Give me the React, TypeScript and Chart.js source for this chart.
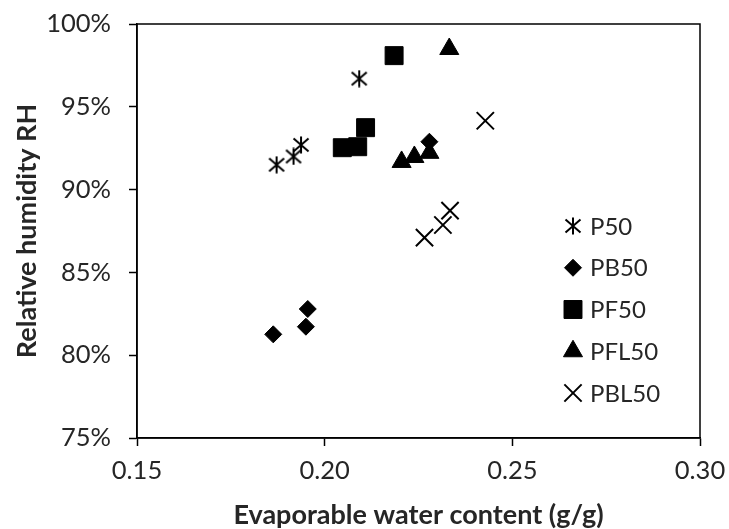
import React, { useEffect, useRef } from 'react';
import { Chart, registerables } from 'chart.js';
import { drawPoint } from 'chart.js/helpers';

Chart.register(...registerables);

const seriesNames = ['P50', 'PB50', 'PF50', 'PFL50', 'PBL50'];

const p50X = [0.1872, 0.1917, 0.1937, 0.2092];
const p50Y = [91.5, 92.0, 92.7, 96.7];

const pb50X = [0.1863, 0.195, 0.1955, 0.2279];
const pb50Y = [81.26, 81.72, 82.79, 92.89];

const pf50X = [0.2047, 0.2088, 0.2109, 0.2185];
const pf50Y = [92.53, 92.59, 93.74, 98.09];

const pfl50X = [0.2205, 0.2239, 0.2279, 0.2332];
const pfl50Y = [91.67, 91.97, 92.22, 98.49];

const pbl50X = [0.2266, 0.2315, 0.2334, 0.2428];
const pbl50Y = [87.1, 87.86, 88.73, 94.16];

const xTickMin = 0.15;
const xTickMax = 0.3;
const xTickStep = 0.05;
const yTickMin = 75;
const yTickMax = 100;
const yTickStep = 5;

const xTitle = 'Evaporable water content (g/g)';
const yTitle = 'Relative humidity RH';

const FONT = 'Lato, "Liberation Sans", sans-serif';
const TEXT = '#262626';

function makeAsterisk(): HTMLCanvasElement {
  const c = document.createElement('canvas');
  c.width = 18;
  c.height = 18;
  const ctx = c.getContext('2d')!;
  ctx.strokeStyle = '#000';
  ctx.lineWidth = 2;
  ctx.beginPath();
  ctx.moveTo(9, 0.5);
  ctx.lineTo(9, 17.5);
  ctx.moveTo(1.5, 2.5);
  ctx.lineTo(16.5, 15.5);
  ctx.moveTo(16.5, 2.5);
  ctx.lineTo(1.5, 15.5);
  ctx.stroke();
  return c;
}

const zip = (xs: number[], ys: number[]) => xs.map((x, i) => ({ x, y: ys[i] }));

const boxPlugin = {
  id: 'plotBox',
  afterDraw(chart: any) {
    const { ctx, chartArea: a } = chart;
    ctx.save();
    ctx.strokeStyle = '#000';
    ctx.lineWidth = 1.5;
    ctx.strokeRect(a.left, a.top, a.right - a.left, a.bottom - a.top);
    ctx.restore();
  },
};

const legendPlugin = {
  id: 'insideLegend',
  afterDraw(chart: any, _args: any, opts: any) {
    const { ctx, chartArea: a } = chart;
    ctx.save();
    chart.data.datasets.forEach((ds: any, i: number) => {
      const y = a.top + opts.top + i * opts.gap;
      const x = a.left + opts.markerX;
      ctx.fillStyle = ds.pointBackgroundColor;
      ctx.strokeStyle = ds.pointBorderColor;
      ctx.lineWidth = ds.pointBorderWidth;
      drawPoint(ctx, {
        pointStyle: ds.pointStyle,
        radius: ds.pointRadius,
        rotation: 0,
        borderWidth: ds.pointBorderWidth,
      } as any, x, y);
      ctx.fillStyle = TEXT;
      ctx.font = `24px ${FONT}`;
      ctx.textBaseline = 'middle';
      ctx.textAlign = 'left';
      ctx.fillText(ds.label, a.left + opts.textX, y + 1);
    });
    ctx.restore();
  },
};

export default function App() {
  const ref = useRef<HTMLCanvasElement>(null);

  useEffect(() => {
    if (!ref.current) return;
    const asterisk = makeAsterisk();
    const base = {
      showLine: false,
      pointBackgroundColor: '#000',
      pointBorderColor: '#000',
    };
    const chart = new Chart(ref.current, {
      type: 'scatter',
      data: {
        datasets: [
          { ...base, label: seriesNames[0], data: zip(p50X, p50Y), pointStyle: asterisk as any, pointRadius: 9, pointBorderWidth: 0 },
          { ...base, label: seriesNames[1], data: zip(pb50X, pb50Y), pointStyle: 'rectRot', pointRadius: 8.5, pointBorderWidth: 1 },
          { ...base, label: seriesNames[2], data: zip(pf50X, pf50Y), pointStyle: 'rect', pointRadius: 12.7, pointBorderWidth: 1 },
          { ...base, label: seriesNames[3], data: zip(pfl50X, pfl50Y), pointStyle: 'triangle', pointRadius: 11, pointBorderWidth: 1 },
          { ...base, label: seriesNames[4], data: zip(pbl50X, pbl50Y), pointStyle: 'crossRot', pointRadius: 12.2, pointBorderWidth: 2 },
        ],
      },
      options: {
        responsive: false,
        animation: false,
        events: [],
        layout: { padding: { left: 0, top: 24, right: 29, bottom: 0 } },
        plugins: {
          legend: { display: false },
          tooltip: { enabled: false },
          insideLegend: { markerX: 436, textX: 453, top: 202, gap: 41.75 },
        } as any,
        scales: {
          x: {
            type: 'linear',
            min: xTickMin,
            max: xTickMax,
            afterFit: (s: any) => { s.height = 91; s.paddingLeft = 0; s.paddingRight = 0; },
            ticks: {
              stepSize: xTickStep,
              callback: (v: any) => Number(v).toFixed(2),
              font: { family: FONT, size: 25.5 },
              color: TEXT,
              padding: 9,
              maxRotation: 0,
            },
            grid: { drawOnChartArea: false, tickLength: 8, tickColor: '#000', tickWidth: 1.5 },
            border: { color: '#000', width: 1.5 },
            title: {
              display: true,
              text: xTitle,
              font: { family: FONT, size: 27, weight: 'bold' },
              color: TEXT,
              padding: { top: 0, bottom: -2 },
            },
          },
          y: {
            type: 'linear',
            min: yTickMin,
            max: yTickMax,
            afterFit: (s: any) => { s.width = 137; s.paddingTop = 0; s.paddingBottom = 0; },
            ticks: {
              stepSize: yTickStep,
              callback: (v: any) => `${v}%`,
              font: { family: FONT, size: 25.5 },
              color: TEXT,
              padding: 18,
            },
            grid: { drawOnChartArea: false, tickLength: 8, tickColor: '#000', tickWidth: 1.5 },
            border: { color: '#000', width: 1.5 },
            title: {
              display: true,
              text: yTitle,
              font: { family: FONT, size: 27, weight: 'bold' },
              color: TEXT,
              padding: { top: 11, bottom: 0 },
            },
          },
        },
      },
      plugins: [boxPlugin, legendPlugin],
    });
    return () => chart.destroy();
  }, []);

  return (
    <div style={{ position: 'fixed', left: 0, top: 0, width: 729, height: 529, background: '#fff' }}>
      <canvas ref={ref} width={729} height={529} style={{ display: 'block' }} />
    </div>
  );
}
